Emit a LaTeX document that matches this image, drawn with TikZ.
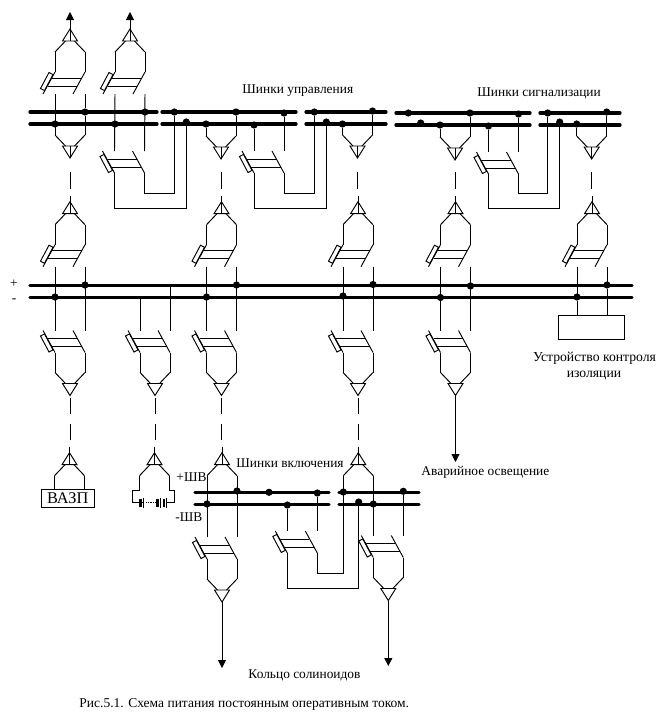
\documentclass[tikz,border=0pt]{standalone}
\usepackage{fontspec}
\setmainfont{Liberation Serif}
\usetikzlibrary{arrows.meta}
% picture is laid out in pixels of the scan, y running downwards
\newcommand{\drawhead}{
  \draw (0,0) -- (-7.5,12) -- (7.5,12) -- cycle;
  \draw (-15,23) -- (-4.5,12);
  \draw (15,23) -- (4.5,12);
}
\newcommand{\drawblade}{
  \draw (-15,0) -- (-27,22);
  \draw (15,0) -- (3,22);
  \draw (-18,6) -- (11.5,6);
  \draw (-22,14) -- (7,14);
  \draw (-29.5,16.5) -- (-21,0.5) -- (-17,2.6) -- (-25.5,18.6) -- cycle;
}
\tikzset{
  every picture/.style={line width=0.95pt},
  bus/.style={line width=3.3pt,line cap=round},
  dot/.style={circle,fill,inner sep=0pt,minimum size=7.2pt},
  arrowline/.style={-{Triangle[length=8pt,width=8pt]}},
  label/.style={font=\fontsize{13.4}{13.4}\selectfont,inner sep=0pt},
  headunit/.pic={
    \drawhead
    \coordinate (-a) at (0,0);
    \coordinate (-b) at (0,12);
    \coordinate (-s) at (0,-6);
    \coordinate (-l) at (-15,23);
    \coordinate (-r) at (15,23);
  },
  bladeunit/.pic={
    \drawblade
    \coordinate (-hl) at (-15,0);
    \coordinate (-hr) at (15,0);
    \coordinate (-l) at (-15,22);
    \coordinate (-r) at (15,22);
  },
  feeder/.pic={
    \drawhead
    \draw (-15,23) -- (-15,43);
    \draw (15,23) -- (15,43);
    \begin{scope}[yshift=-43pt]
      \drawblade
    \end{scope}
    \coordinate (-a) at (0,0);
    \coordinate (-b) at (0,12);
    \coordinate (-s) at (0,-6);
    \coordinate (-l) at (-15,65);
    \coordinate (-r) at (15,65);
  },
}
\begin{document}
\begin{tikzpicture}[x=1pt,y=-1pt]
  \useasboundingbox (0,0) rectangle (669,718);

  % buses
  \foreach \n/\xa/\xb/\y in {a/30/157/112,b/30/157/124,c/162/296/112,d/162/296/124,
      e/306/386/112,f/306/386/124,g/396/530/113,h/396/530/125,i/540/620/113,j/540/620/125,
      plus/30/632/285.3,minus/30/632/297.3,
      k/195/329/492.3,l/195/329/504.3,m/339/419/492.3,n/339/419/504.3} {
    \coordinate (\n L) at (\xa,\y);
    \coordinate (\n R) at (\xb,\y);
    \draw[bus] (\n L) -- (\n R);
  }

  % top row
  \pic (t1) at (70,29) {feeder};
  \pic (t2) at (130,29) {feeder};
  \pic[yscale=-1] (d1) at (70,158) {headunit};
  \pic[yscale=-1] (d2) at (221,159) {headunit};
  \pic[yscale=-1] (d3) at (357.5,158) {headunit};
  \pic[yscale=-1] (d4) at (455,160) {headunit};
  \pic[yscale=-1] (d5) at (591.7,159) {headunit};
  \pic[yscale=-1] (s1) at (129.5,173) {bladeunit};
  \pic[yscale=-1] (s2) at (269,173) {bladeunit};
  \pic[yscale=-1] (s3) at (503.5,174) {bladeunit};

  % middle row
  \foreach \n/\x in {1/70,2/221.5,3/358,4/455.5,5/592}
    \pic (u\n) at (\x,201.7) {feeder};
  % lower row
  \foreach \n/\x in {1/70,2/155,3/221.5,4/358,5/455.5}
    \pic[yscale=-1] (w\n) at (\x,395.5) {feeder};

  % sources and the bottom row
  \pic (v1) at (69.5,452.7) {headunit};
  \pic (v2) at (154.5,452.7) {headunit};
  \pic (v3) at (222,452.7) {headunit};
  \pic (v4) at (358.3,452.7) {headunit};
  \pic[yscale=-1] (s4) at (302.3,553) {bladeunit};
  \pic[yscale=-1] (f1) at (222,602) {feeder};
  \pic[yscale=-1] (f2) at (388.3,600.5) {feeder};

  % junctions
  \foreach \n/\x/\y in {p1/85/112,p2/55/124,p3/145/112,p4/115/124,p5/174.3/112,p6/186.3/122,
      p7/236/112,p8/206/124,p9/284/113,p10/254/125,p11/314.3/112,p12/326.3/122,
      p13/342.5/124,p14/372.5/111,p15/408.3/113,p16/420.7/123,p17/440/125,p18/470/113,
      p19/488.5/126,p20/518.5/114,p21/547.7/113,p22/559.7/122,p23/576.7/124,p24/606.7/112,
      q1/85/285,q2/55/297,q3/236.5/285,q4/206.5/297,q5/373/284.5,q6/343/296,q7/470.5/286,
      q8/440.5/297.5,q9/607/285,q10/577/297,
      r1/237/491,r2/269/492.3,r3/317.3/493,r4/207/504,r5/287.3/505,
      r6/343.3/492,r7/403.3/491.3,r8/358.7/502,r9/373.3/504}
    \node[dot] (\n) at (\x,\y) {};

  % legs through the top buses
  \draw (t1-l) -- (d1-l);
  \draw (t1-r) -- (p1);
  \draw (p1) -- (d1-r);
  \draw (t2-l) -- (s1-l);
  \draw (t2-r) -- (s1-r);
  \draw (p8) -- (d2-l);
  \draw (p7) -- (d2-r);
  \draw (p10) -- (s2-l);
  \draw (p9) -- (s2-r);
  \draw (p13) -- (d3-l);
  \draw (p14) -- (d3-r);
  \draw (p17) -- (d4-l);
  \draw (p18) -- (d4-r);
  \draw (p19) -- (s3-l);
  \draw (p20) -- (s3-r);
  \draw (p23) -- (d5-l);
  \draw (p24) -- (d5-r);

  % loops from the switches
  \draw (s1-hr) -- ++(0,20) -| (p5);
  \draw (s1-hl) -- ++(0,35) -| (p6);
  \draw (s2-hr) -- ++(0,20) -| (p11);
  \draw (s2-hl) -- ++(0,35) -| (p12);
  \draw (s3-hr) -- ++(0,19) -| (p21);
  \draw (s3-hl) -- ++(0,34) -| (p22);
  \draw (s4-hr) -- ++(0,20) -| (v4-l);
  \draw (s4-hl) -- ++(0,35) -| (r8);

  % legs through the main buses
  \foreach \n in {1,2,3,4,5} {
    \draw (u\n-l) -- (u\n-l |- minusL);
    \draw (u\n-r) -- (u\n-r |- plusL);
  }
  \draw (u1-l) -- (w1-l);
  \draw (u1-r) -- (w1-r);
  \draw (u2-l) -- (w3-l);
  \draw (u2-r) -- (w3-r);
  \draw (u3-l) -- (w4-l);
  \draw (u3-r) -- (w4-r);
  \draw (u4-l) -- (w5-l);
  \draw (u4-r) -- (w5-r);
  \draw (w2-l |- minusL) -- (w2-l);
  \draw (w2-r |- plusL) -- (w2-r);

  % device under the main buses
  \node[draw,minimum width=66pt,minimum height=23.6pt,inner sep=0pt] (kontrol) at (591.3,327.5) {};
  \draw (q10) -- (q10 |- kontrol.north);
  \draw (q9) -- (q9 |- kontrol.north);

  % legs through the closing buses
  \draw (v3-l) -- (f1-l);
  \draw (v3-r) -- (f1-r);
  \draw (v4-r) -- (f2-l);
  \draw (r7) -- (f2-r);
  \draw (r5) -- (s4-l);
  \draw (r3) -- (s4-r);

  % centre lines and dashes
  \foreach \n in {d1,d2,d3,d4,d5}
    \draw (\n-a) -- (\n-b);
  \foreach \n in {u1,u2,u3,u4,u5,v1,v2,v3,v4}
    \draw (\n-s) -- (\n-b);
  \foreach \x in {70,221,357.5,455,591.7}
    \draw (\x,172) -- (\x,188.5);
  \foreach \x in {70,155,221.5,358} {
    \draw (\x,398) -- (\x,413.5);
    \draw (\x,424) -- (\x,440);
  }

  % arrows
  \coordinate (t1up) at (70,12);
  \coordinate (t2up) at (130,12);
  \coordinate (avar) at (455.5,462);
  \coordinate (f1down) at (222,668);
  \coordinate (f2down) at (388.3,666);
  \draw[arrowline] (t1-b) -- (t1up);
  \draw[arrowline] (t2-b) -- (t2up);
  \draw[arrowline] (w5-a) -- (avar);
  \draw[arrowline] (f1-a) -- (f1down);
  \draw[arrowline] (f2-a) -- (f2down);

  % sources
  \node[draw,minimum width=53.3pt,minimum height=18.3pt,inner sep=0pt,font=\fontsize{16.3}{16.3}\selectfont] (vazp) at (67.7,498.2) {ВАЗП};
  \draw (v1-l) -- (v1-l |- vazp.north);
  \draw (v1-r) -- (v1-r |- vazp.north);
  % battery
  \coordinate (batl) at (139.5,490);
  \coordinate (batr) at (169.5,490);
  \draw (v2-l) -- (batl) -- (132.3,490) -- (132.3,502.7) -- (143.3,502.7);
  \draw (v2-r) -- (batr) -- (174.3,490) -- (174.3,502.7) -- (166,502.7);
  \draw[densely dotted,line width=1.2pt] (146,502.7) -- (155,502.7);
  \foreach \x in {140.7,157.3,164}
    \draw[line width=2.8pt] (\x,498.7) -- (\x,507);
  \foreach \x in {143.3,160,166.5}
    \draw (\x,497.5) -- (\x,508);

  % labels
  \node[label,anchor=base west] (tu) at (242,93) {Шинки управления};
  \node[label,anchor=base west] (ts) at (477,96) {Шинки сигнализации};
  \node[label,anchor=base] (tplus) at (14,287) {+};
  \node[label,anchor=base] (tminus) at (14,302) {-};
  \node[label,anchor=base,font=\fontsize{13.7}{13.7}\selectfont] (tk1) at (594.5,361) {Устройство контроля};
  \node[label,anchor=base,font=\fontsize{13.7}{13.7}\selectfont] (tk2) at (594,377) {изоляции};
  \node[label,anchor=base west] (tv) at (236,467) {Шинки включения};
  \node[label,anchor=base west] (ta) at (421,475) {Аварийное освещение};
  \node[label,anchor=base west] (tpv) at (176,481) {+ШВ};
  \node[label,anchor=base west] (tmv) at (175,521) {-ШВ};
  \node[label,anchor=base west] (tr) at (248,678) {Кольцо солиноидов};
  \node[label,anchor=base west,font=\fontsize{13.5}{13.5}\selectfont] (tc) at (79,707) {Рис.5.1. Схема питания постоянным оперативным током.};
\end{tikzpicture}
\end{document}
